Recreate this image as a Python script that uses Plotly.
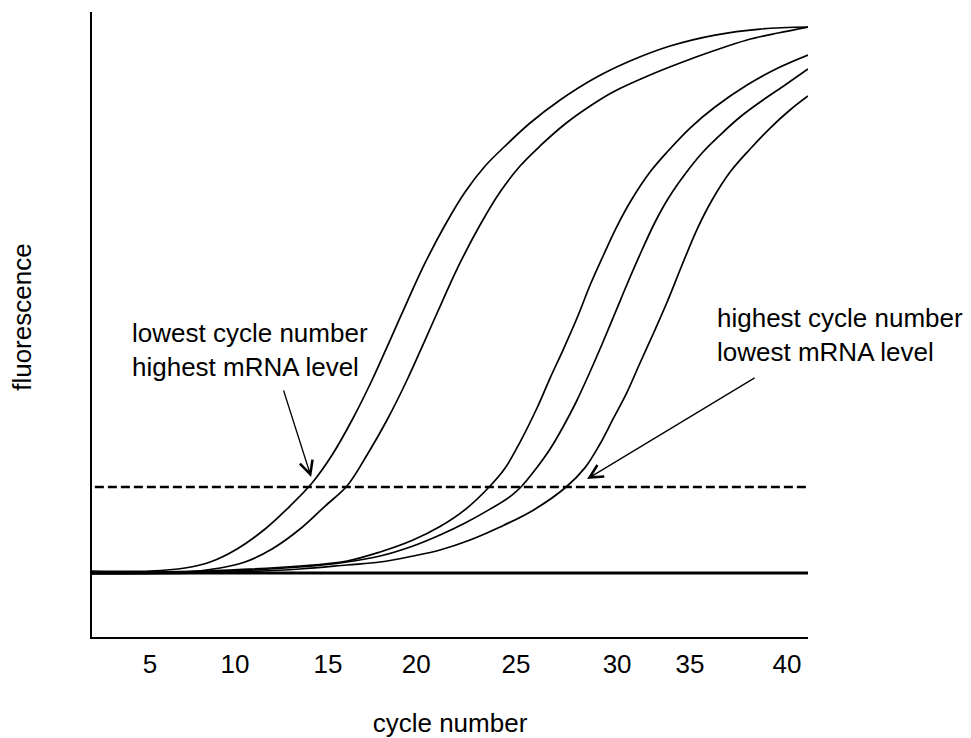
import plotly.graph_objects as go

# ---- data ----
# x in cycle units, y in relative fluorescence (baseline = 0, plateau = 100)
cycle_a = [1.81, 5.00, 6.92, 8.30, 9.78, 11.32, 12.69, 13.90, 15.00, 16.10, 17.20, 18.19, 19.12,
           20.11, 21.21, 22.31, 23.41, 24.51, 25.88, 27.53, 29.45, 31.37, 33.57, 36.04, 38.52, 41.15]
fluor_a = [0.37, 0.37, 0.92, 2.01, 4.40, 8.06, 12.27, 16.48, 21.61, 28.02, 35.35, 42.67, 49.63,
           56.78, 63.74, 69.78, 74.54, 78.21, 82.42, 86.63, 90.66, 93.77, 96.52, 98.53, 99.63, 100.0]

cycle_b = [1.81, 6.92, 8.85, 10.22, 11.70, 13.24, 14.62, 15.82, 16.92, 18.02, 19.12, 20.11, 21.04,
           22.03, 23.13, 24.23, 25.33, 26.43, 27.80, 29.18, 30.44, 32.47, 34.12, 35.93, 37.80, 39.50, 41.15]
fluor_b = [0.0, 0.18, 0.92, 2.01, 4.40, 8.06, 12.27, 15.93, 21.61, 28.02, 35.35, 42.67, 49.63,
           56.78, 63.74, 69.78, 74.54, 78.21, 82.23, 85.53, 88.10, 91.21, 93.41, 95.60, 97.62, 98.90, 100.0]

cycle_c = [1.81, 7.75, 13.24, 15.82, 17.64, 19.45, 20.93, 22.31, 23.63, 24.51, 25.33, 26.26, 26.98,
           27.69, 28.46, 29.18, 29.89, 30.66, 31.48, 32.47, 33.41, 34.67, 36.04, 37.80, 39.50, 41.15]
fluor_c = [0.18, 0.37, 1.28, 2.20, 3.85, 6.04, 8.50, 11.60, 15.75, 19.23, 23.99, 30.22, 35.71,
           40.84, 46.70, 52.75, 58.06, 63.55, 68.50, 73.44, 77.11, 81.50, 85.35, 89.38, 92.49, 94.87]

cycle_d = [1.81, 7.75, 13.24, 15.82, 17.64, 19.45, 20.93, 22.31, 23.68, 24.78, 25.38, 26.15, 26.98,
           27.69, 28.41, 29.12, 29.84, 30.55, 31.26, 31.98, 32.75, 33.52, 34.40, 35.33, 36.32, 37.42,
           38.68, 39.89, 41.15]
fluor_d = [0.0, 0.18, 1.10, 2.01, 3.11, 4.95, 6.96, 9.16, 11.70, 14.00, 15.75, 18.86, 22.71,
           26.74, 31.32, 36.45, 41.94, 47.62, 53.30, 58.79, 64.29, 68.86, 73.08, 76.92, 80.22, 83.52,
           86.63, 89.38, 92.31]

cycle_e = [1.81, 7.75, 13.24, 15.82, 17.64, 19.45, 20.93, 22.58, 24.23, 26.10, 27.86, 28.90, 29.72,
           30.44, 31.21, 31.92, 32.69, 33.41, 34.23, 35.06, 35.88, 36.87, 37.97, 39.07, 40.16, 41.15]
fluor_e = [-0.18, 0.0, 0.73, 1.47, 2.01, 3.11, 4.21, 6.04, 8.42, 11.60, 15.75, 19.30, 23.63,
           28.21, 33.15, 38.46, 44.14, 49.63, 56.41, 63.00, 68.32, 73.44, 77.66, 81.50, 84.80, 87.36]

tick_labels = ["5", "10", "15", "20", "25", "30", "35", "40"]
tick_positions = [5.0, 9.67, 14.78, 19.62, 25.11, 30.66, 34.67, 40.0]

baseline_level = 0.0
threshold_level = 15.75

FONT = "Liberation Sans, Arial, sans-serif"

fig = go.Figure()
for xs, ys in [(cycle_a, fluor_a), (cycle_b, fluor_b), (cycle_c, fluor_c),
               (cycle_d, fluor_d), (cycle_e, fluor_e)]:
    fig.add_trace(go.Scatter(
        x=xs, y=ys, mode="lines",
        line=dict(color="black", width=1.7, shape="spline", smoothing=1.0),
        showlegend=False, hoverinfo="skip"))

# baseline and threshold
fig.add_shape(type="line", xref="paper", x0=0, x1=1, yref="y",
              y0=baseline_level, y1=baseline_level,
              line=dict(color="black", width=2.8))
fig.add_shape(type="line", xref="paper", x0=0.004, x1=1, yref="y",
              y0=threshold_level, y1=threshold_level,
              line=dict(color="black", width=2.6, dash="9px,4px"))

# text labels
fig.add_annotation(x=3.90, y=40.8, xref="x", yref="y", xanchor="left", yanchor="middle",
                   text="lowest cycle number<br>highest mRNA level", showarrow=False,
                   align="left", font=dict(family=FONT, size=26, color="black"))
fig.add_annotation(x=36.04, y=43.6, xref="x", yref="y", xanchor="left", yanchor="middle",
                   text="highest cycle number<br>lowest mRNA level", showarrow=False,
                   align="left", font=dict(family=FONT, size=26, color="black"))

# y-axis title
fig.add_annotation(x=-0.098, y=0.512, xref="paper", yref="paper", xanchor="center",
                   yanchor="middle", text="fluorescence", textangle=-90, showarrow=False,
                   font=dict(family=FONT, size=26, color="black"))

# arrows
fig.add_annotation(x=13.85, y=17.6, ax=12.31, ay=33.7, xref="x", yref="y",
                   axref="x", ayref="y", text="", showarrow=True,
                   arrowhead=5, arrowsize=2.0, arrowwidth=1.3, arrowcolor="black", standoff=0)
fig.add_annotation(x=29.01, y=17.2, ax=38.30, ay=35.9, xref="x", yref="y",
                   axref="x", ayref="y", text="", showarrow=True,
                   arrowhead=5, arrowsize=2.0, arrowwidth=1.3, arrowcolor="black", standoff=0)

fig.update_layout(
    width=971, height=738,
    margin=dict(l=92, r=163, t=12, b=101),
    paper_bgcolor="white", plot_bgcolor="white",
    font=dict(family=FONT, size=26, color="black"),
    showlegend=False,
    xaxis=dict(range=[1.81, 41.15], tickvals=tick_positions, ticktext=tick_labels,
               showgrid=False, zeroline=False, showline=True, linecolor="black",
               linewidth=2, ticks="", ticklabelstandoff=3, automargin=False,
               tickfont=dict(family=FONT, size=26, color="black"),
               title=dict(text="cycle number", standoff=37,
                          font=dict(family=FONT, size=26, color="black"))),
    yaxis=dict(range=[-11.72, 102.75], showgrid=False, zeroline=False, showline=True,
               linecolor="black", linewidth=2, ticks="", showticklabels=False,
               automargin=False),
)

fig.write_html("out.html")
